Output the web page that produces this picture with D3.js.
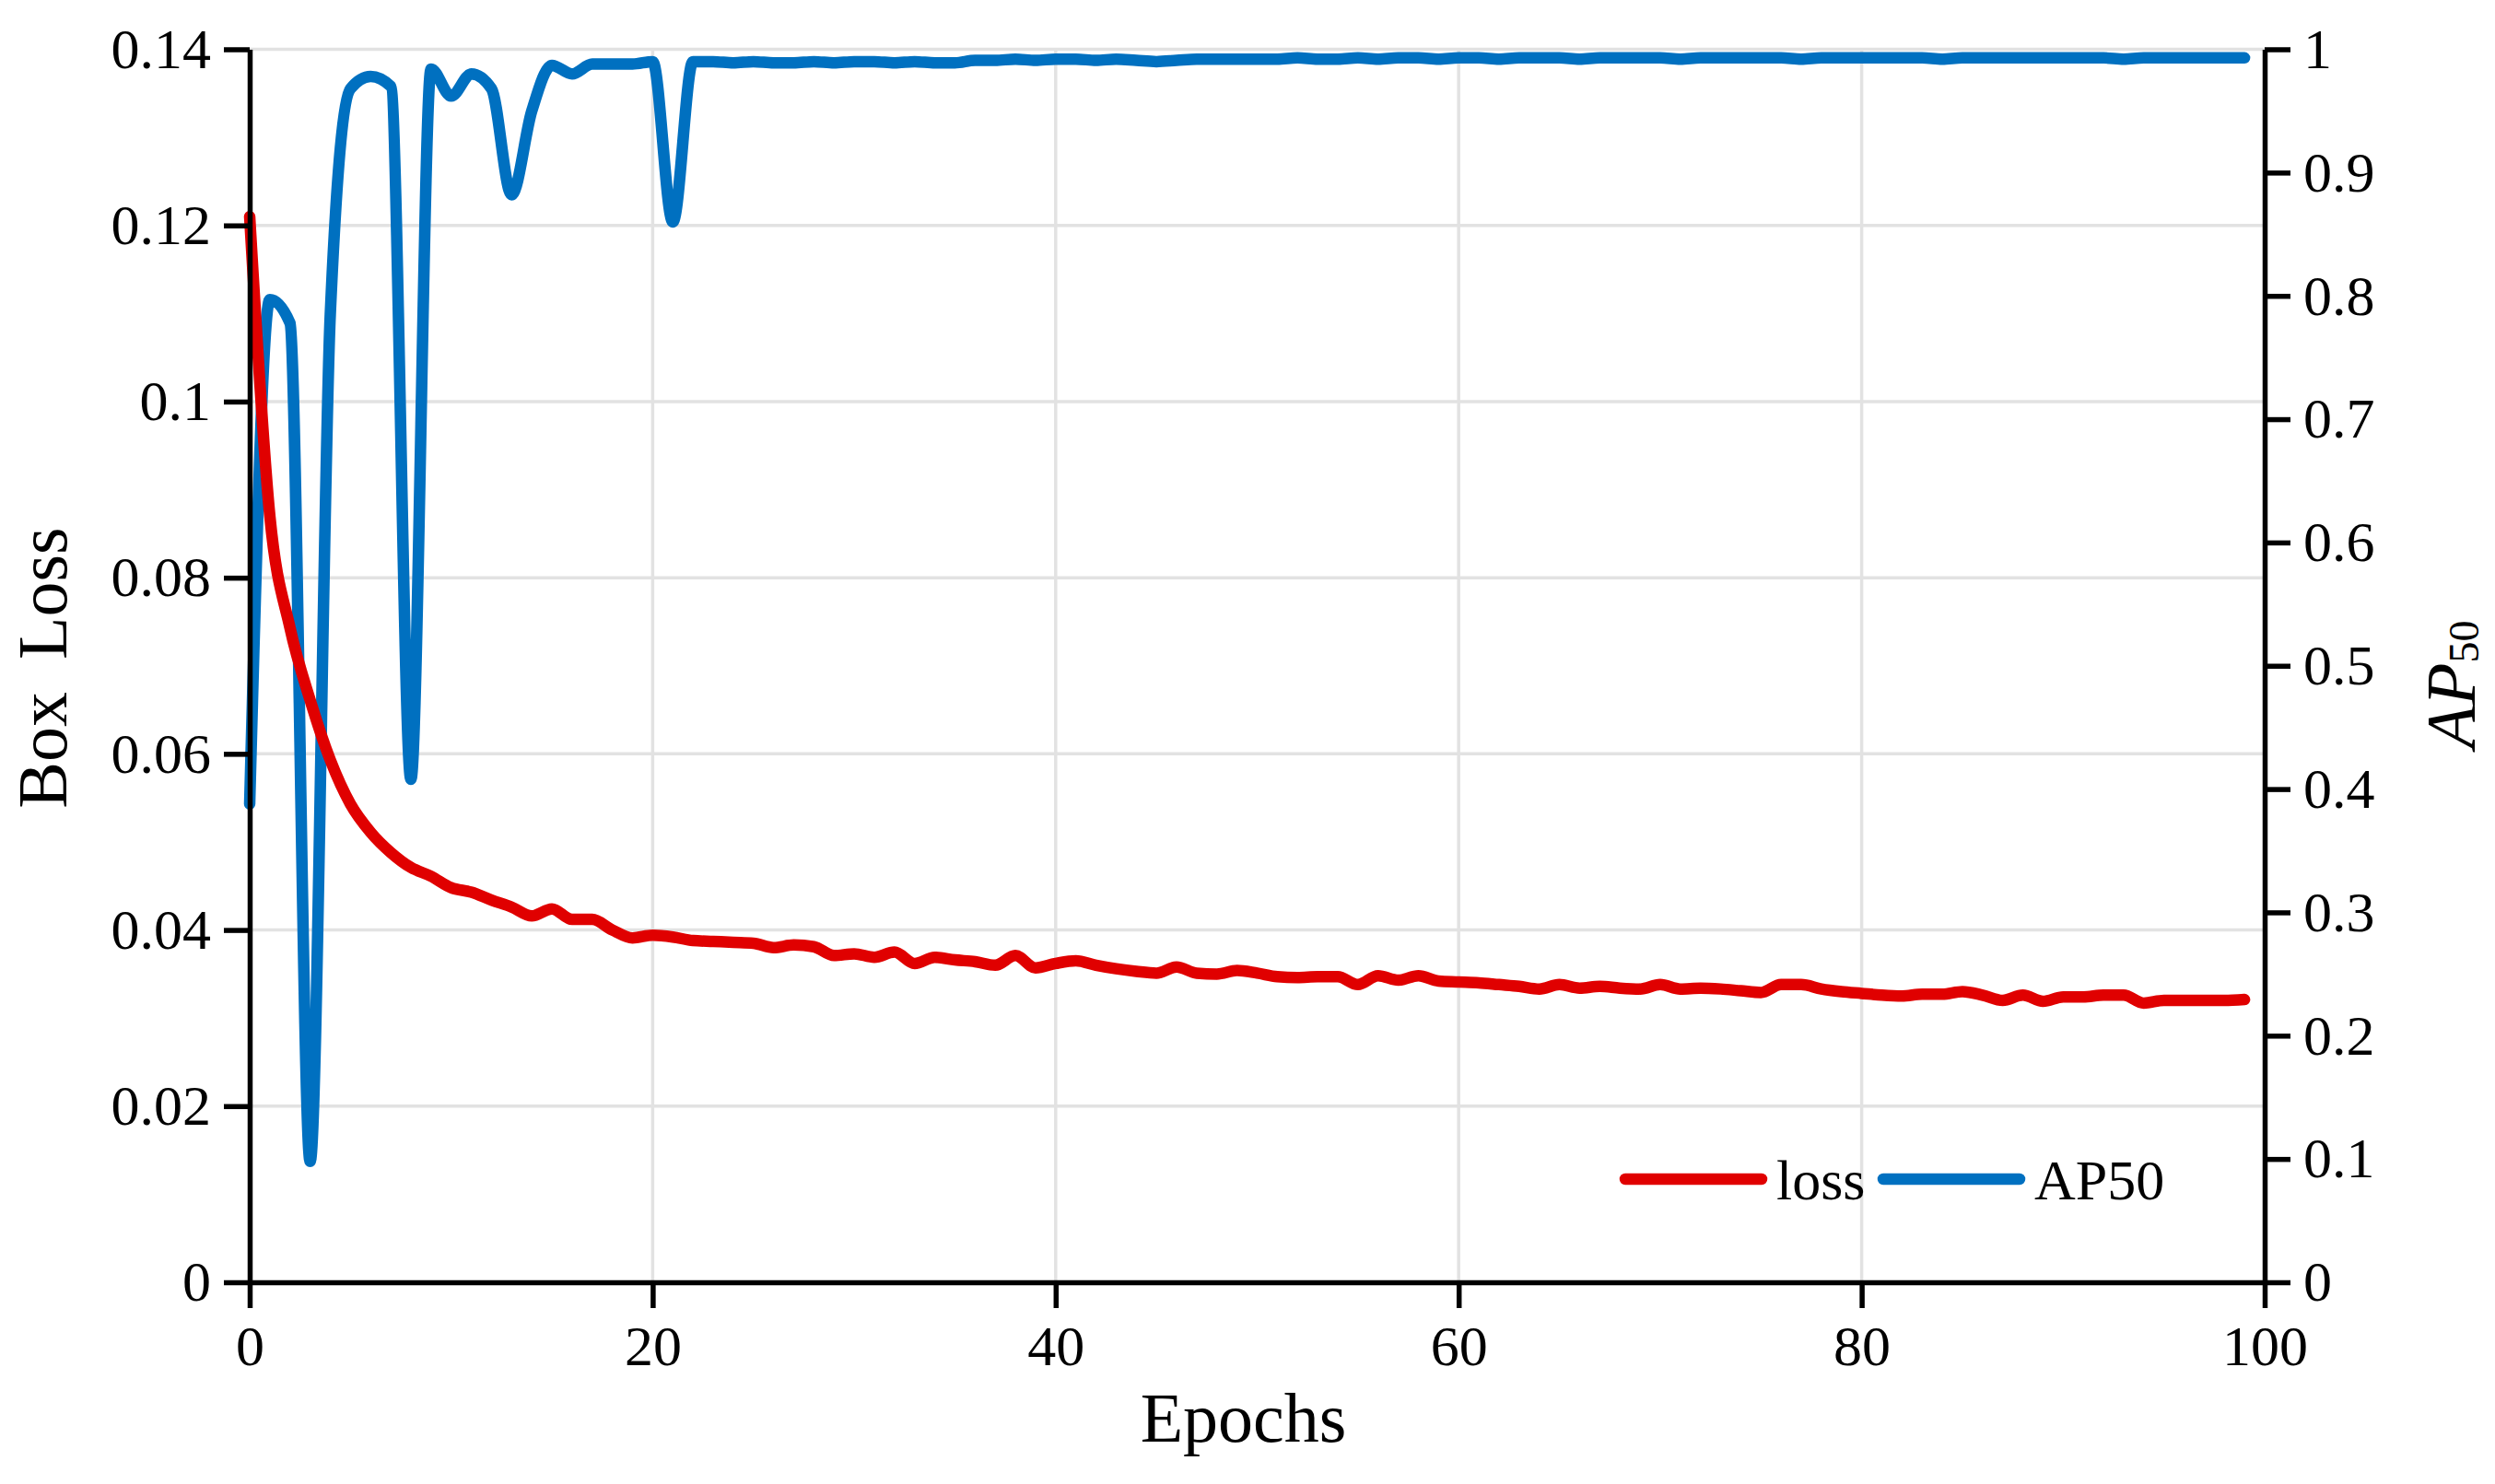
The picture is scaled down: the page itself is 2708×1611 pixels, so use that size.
<!DOCTYPE html>
<html>
<head>
<meta charset="utf-8">
<script src="https://cdn.jsdelivr.net/npm/d3@7"></script>
<style>
	html, body { margin: 0; padding: 0; background: #fff; }
	svg { display: block; }
	text { font-family: "Liberation Serif", "Times New Roman", serif; fill: #000; }
</style>
</head>
<body>
<div id="chart"></div>
<script>
// Epochs 0..99
const epochs = d3.range(0, 100)

// Box loss per epoch (left axis)
const lossValues = [
	0.1210, 0.0870, 0.0743, 0.0661, 0.0593, 0.0543, 0.0511, 0.0488, 0.0471, 0.0461,
	0.0448, 0.0443, 0.0434, 0.0426, 0.0416, 0.0424, 0.0412, 0.0412, 0.0400, 0.0391,
	0.0394, 0.0392, 0.0388, 0.0387, 0.0386, 0.0385, 0.0380, 0.0383, 0.0381, 0.0371,
	0.0373, 0.0369, 0.0375, 0.0362, 0.0369, 0.0366, 0.0364, 0.0360, 0.0371, 0.0357,
	0.0362, 0.0365, 0.0360, 0.0356, 0.0353, 0.0351, 0.0358, 0.0351, 0.0350, 0.0354,
	0.0351, 0.0347, 0.0346, 0.0347, 0.0347, 0.0338, 0.0348, 0.0343, 0.0348, 0.0342,
	0.0341, 0.0340, 0.0338, 0.0336, 0.0333, 0.0338, 0.0334, 0.0336, 0.0334, 0.0333,
	0.0338, 0.0333, 0.0334, 0.0333, 0.0331, 0.0329, 0.0338, 0.0338, 0.0333, 0.0330,
	0.0328, 0.0326, 0.0325, 0.0327, 0.0327, 0.0330, 0.0326, 0.0320, 0.0326, 0.0319,
	0.0324, 0.0324, 0.0326, 0.0326, 0.0317, 0.0320, 0.0320, 0.0320, 0.0320, 0.0321,
]

// AP50 per epoch (right axis)
const apValues = [
	0.388, 0.797, 0.778, 0.098, 0.785, 0.968, 0.978, 0.970, 0.408, 0.984,
	0.962, 0.980, 0.968, 0.882, 0.950, 0.987, 0.980, 0.988, 0.988, 0.988,
	0.990, 0.860, 0.990, 0.990, 0.989, 0.990, 0.989, 0.989, 0.990, 0.989,
	0.990, 0.990, 0.989, 0.990, 0.989, 0.989, 0.991, 0.991, 0.992, 0.991,
	0.992, 0.992, 0.991, 0.992, 0.991, 0.990, 0.991, 0.992, 0.992, 0.992,
	0.992, 0.992, 0.993, 0.992, 0.992, 0.993, 0.992, 0.993, 0.993, 0.992,
	0.993, 0.993, 0.992, 0.993, 0.993, 0.993, 0.992, 0.993, 0.993, 0.993,
	0.993, 0.992, 0.993, 0.993, 0.993, 0.993, 0.993, 0.992, 0.993, 0.993,
	0.993, 0.993, 0.993, 0.993, 0.992, 0.993, 0.993, 0.993, 0.993, 0.993,
	0.993, 0.993, 0.993, 0.992, 0.993, 0.993, 0.993, 0.993, 0.993, 0.993,
]

const xTicks = [0, 20, 40, 60, 80, 100]
const xTickLabels = ["0", "20", "40", "60", "80", "100"]
const lossTicks = [0, 0.02, 0.04, 0.06, 0.08, 0.1, 0.12, 0.14]
const lossTickLabels = ["0", "0.02", "0.04", "0.06", "0.08", "0.1", "0.12", "0.14"]
const apTicks = [0, 0.1, 0.2, 0.3, 0.4, 0.5, 0.6, 0.7, 0.8, 0.9, 1]
const apTickLabels = ["0", "0.1", "0.2", "0.3", "0.4", "0.5", "0.6", "0.7", "0.8", "0.9", "1"]

const series = [
	{ name: "loss", values: lossValues, colour: "#e00000", axis: "loss" },
	{ name: "AP50", values: apValues, colour: "#0070c0", axis: "ap" },
]

const config = {
	width: 2708,
	height: 1611,
	margin: { top: 53.5, right: 250, bottom: 219, left: 271 },
	fontSize: 62,
	titleSize: 76,
	tickSize: 28,
	tickPadding: 14,
	axisStroke: 5.5,
	gridColour: "#e2e2e2",
	gridStroke: 3.5,
	lineStroke: 12.5,
}

const innerW = config.width - config.margin.left - config.margin.right
const innerH = config.height - config.margin.top - config.margin.bottom

const scales = {
	x: d3.scaleLinear().domain([0, 100]).range([0, innerW]),
	loss: d3.scaleLinear().domain([0, 0.14]).range([innerH, 0]),
	ap: d3.scaleLinear().domain([0, 1]).range([innerH, 0]),
}

const svg = d3.select("#chart").append("svg")
	.attr("width", config.width)
	.attr("height", config.height)

const plot = svg.append("g")
	.attr("transform", `translate(${config.margin.left}, ${config.margin.top})`)

// Grid
const grid = plot.append("g").attr("class", "grid")
grid.selectAll("line.h")
	.data(lossTicks.filter(d => d > 0))
	.join("line")
	.attr("class", "h")
	.attr("x1", 0)
	.attr("x2", innerW)
	.attr("y1", d => scales.loss(d))
	.attr("y2", d => scales.loss(d))
grid.selectAll("line.v")
	.data(xTicks.filter(d => d > 0 && d < 100))
	.join("line")
	.attr("class", "v")
	.attr("x1", d => scales.x(d))
	.attr("x2", d => scales.x(d))
	.attr("y1", 0)
	.attr("y2", innerH)
grid.selectAll("line")
	.attr("stroke", config.gridColour)
	.attr("stroke-width", config.gridStroke)

// Lines (smoothed, loss drawn over AP50)
const lineGroup = plot.append("g").attr("class", "lines")
const drawOrder = [series[1], series[0]]
lineGroup.selectAll("path")
	.data(drawOrder)
	.join("path")
	.attr("fill", "none")
	.attr("stroke", s => s.colour)
	.attr("stroke-width", config.lineStroke)
	.attr("stroke-linecap", "round")
	.attr("stroke-linejoin", "round")
	.attr("d", s => d3.line()
		.curve(d3.curveMonotoneX)
		.x((d, i) => scales.x(epochs[i]))
		.y(d => scales[s.axis](d))(s.values))

// Axes
function styleAxis(g) {
	g.selectAll("path.domain")
		.attr("stroke", "#000")
		.attr("stroke-width", config.axisStroke)
	g.selectAll(".tick line")
		.attr("stroke", "#000")
		.attr("stroke-width", config.axisStroke)
	g.selectAll(".tick text")
		.style("font-family", "\"Liberation Serif\", \"Times New Roman\", serif")
		.style("font-size", `${config.fontSize}px`)
		.attr("fill", "#000")
}

plot.append("g")
	.attr("transform", `translate(0, ${innerH})`)
	.call(d3.axisBottom(scales.x)
		.tickValues(xTicks)
		.tickFormat((d, i) => xTickLabels[i])
		.tickSize(config.tickSize)
		.tickSizeOuter(0)
		.tickPadding(config.tickPadding + 4))
	.call(styleAxis)

plot.append("g")
	.call(d3.axisLeft(scales.loss)
		.tickValues(lossTicks)
		.tickFormat((d, i) => lossTickLabels[i])
		.tickSize(config.tickSize)
		.tickSizeOuter(0)
		.tickPadding(config.tickPadding))
	.call(styleAxis)

plot.append("g")
	.attr("transform", `translate(${innerW}, 0)`)
	.call(d3.axisRight(scales.ap)
		.tickValues(apTicks)
		.tickFormat((d, i) => apTickLabels[i])
		.tickSize(config.tickSize)
		.tickSizeOuter(0)
		.tickPadding(config.tickPadding))
	.call(styleAxis)

svg.selectAll("text").attr("font-family", "\"Liberation Serif\", \"Times New Roman\", serif")

// Axis titles
svg.append("text")
	.attr("x", config.margin.left + innerW / 2 - 15)
	.attr("y", 1565)
	.attr("text-anchor", "middle")
	.style("font-size", `${config.titleSize}px`)
	.text("Epochs")

svg.append("text")
	.attr("transform", `translate(72, 725) rotate(-90)`)
	.attr("text-anchor", "middle")
	.style("font-size", `${config.titleSize}px`)
	.style("word-spacing", "16px")
	.text("Box Loss")

let apTitle = svg.append("text")
	.attr("transform", `translate(2686, 743) rotate(-90)`)
	.attr("text-anchor", "middle")
	.style("font-size", `${config.titleSize}px`)
apTitle.append("tspan")
	.style("font-style", "italic")
	.text("AP")
apTitle.append("tspan")
	.style("font-size", "46px")
	.attr("dy", 4)
	.text("50")

// Legend
const legendItems = [
	{ s: series[0], x: 1764 },
	{ s: series[1], x: 2044 },
]
const legend = svg.append("g").attr("class", "legend")
legend.selectAll("line")
	.data(legendItems)
	.join("line")
	.attr("x1", d => d.x)
	.attr("x2", d => d.x + 148)
	.attr("y1", 1280)
	.attr("y2", 1280)
	.attr("stroke", d => d.s.colour)
	.attr("stroke-width", config.lineStroke)
	.attr("stroke-linecap", "round")
legend.selectAll("text")
	.data(legendItems)
	.join("text")
	.attr("x", d => d.x + 164)
	.attr("y", 1302)
	.style("font-size", `${config.fontSize}px`)
	.text(d => d.s.name)
</script>
</body>
</html>
